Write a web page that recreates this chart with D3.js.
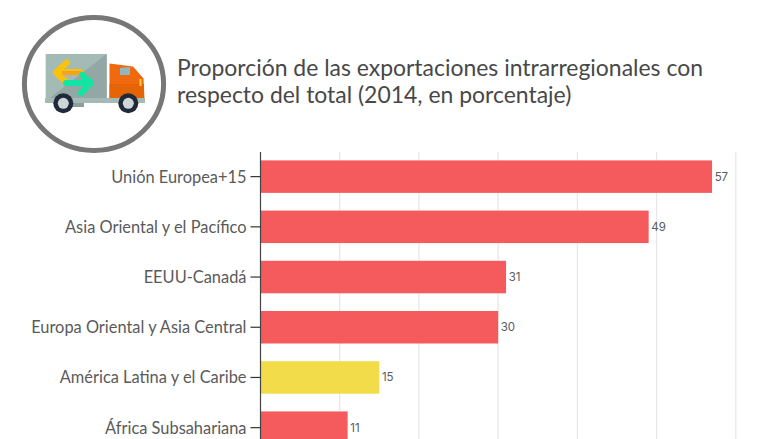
<!DOCTYPE html>
<html><head><meta charset="utf-8">
<script src="https://cdnjs.cloudflare.com/ajax/libs/d3/7.8.5/d3.min.js"></script>
<style>html,body{margin:0;padding:0;background:#fff;overflow:hidden}svg{display:block}</style>
</head><body><svg id="c" width="780" height="439"></svg>
<script>
const categories = ["Unión Europea+15","Asia Oriental y el Pacífico","EEUU-Canadá","Europa Oriental y Asia Central","América Latina y el Caribe","África Subsahariana"];
const values = [57,49,31,30,15,11];
const barColors = ["#f55a5c","#f55a5c","#f55a5c","#f55a5c","#f2dc4a","#f55a5c"];
const xTicks = [0,10,20,30,40,50,60];
const titleLines = ["Proporción de las exportaciones intrarregionales con","respecto del total (2014, en porcentaje)"];

const svg = d3.select("#c");
const x = d3.scaleLinear().domain([0,60]).range([260.5,735.8]);
const y = d3.scaleBand().domain(categories).range([152,452.3]).paddingInner(.353).paddingOuter(.167);

// grid
svg.append("g").selectAll("line").data(xTicks.slice(1)).join("line")
  .attr("x1",d=>x(d)).attr("x2",d=>x(d)).attr("y1",152).attr("y2",439)
  .attr("stroke","#e8e8e8").attr("stroke-width",1.3);

// bars
svg.append("g").selectAll("rect").data(values).join("rect")
  .attr("x",x(0)).attr("y",(d,i)=>y(categories[i]))
  .attr("width",d=>x(d)-x(0)).attr("height",y.bandwidth())
  .attr("fill",(d,i)=>barColors[i]);

// value labels
svg.append("g").selectAll("text").data(values).join("text")
  .attr("x",d=>x(d)+2.6).attr("y",(d,i)=>y(categories[i])+y.bandwidth()/2)
  .attr("dy","0.35em").attr("font-family","Inter").attr("font-size",11.5)
  .attr("fill","#5a5a5a").text(d=>d);

// axis
const ax = svg.append("g").attr("transform",`translate(${x(0)},0)`)
  .call(d3.axisLeft(y).tickSizeOuter(0).tickSize(10).tickPadding(4));
ax.select(".domain").attr("stroke","#444").attr("stroke-width",1.2).attr("d","M0,152V439");
ax.selectAll(".tick line").attr("stroke","#333").attr("stroke-width",1.2);
ax.selectAll("text").attr("font-family","Lato").attr("font-size",16.4).attr("fill","#5a5a5a").attr("dy","0.36em");

// title
svg.append("g").selectAll("text").data(titleLines).join("text")
  .attr("x",177).attr("y",(d,i)=>76+i*27)
  .attr("font-family","Lato").attr("font-size",22.95).attr("fill","#484848").text(d=>d);

// icon
const ic = svg.append("g");
ic.append("ellipse").attr("cx",94).attr("cy",84).attr("rx",69.6).attr("ry",66.4).attr("fill","#fff").attr("stroke","#777").attr("stroke-width",5);
ic.append("rect").attr("x",45.7).attr("y",54).attr("width",61).attr("height",44.5).attr("fill","#a3bab5");
ic.append("path").attr("d","M106.7 54V98.5H49Z").attr("fill","#93a8a4");
ic.append("path").attr("d","M109.5 63.5L133 66.5L143.5 78.5L144.5 98.5H109.5Z").attr("fill","#f0690f");
ic.append("path").attr("d","M109.5 84H144V98.5H109.5Z").attr("fill","#e56405");
ic.append("path").attr("d","M120 68L130 67V75H120Z").attr("fill","#8fb8c0");
ic.append("rect").attr("x",139.5).attr("y",79).attr("width",2).attr("height",7).attr("fill","#f6d33c");
ic.append("rect").attr("x",45).attr("y",98).attr("width",100).attr("height",5).attr("fill","#a3bab5");
ic.append("rect").attr("x",65).attr("y",103).attr("width",19).attr("height",4).attr("fill","#8aa09c");
ic.append("path").attr("d","M80 72H62M67 62.5L56 72.5L66 82").attr("fill","none").attr("stroke","#fbc20c").attr("stroke-width",6).attr("stroke-linecap","round").attr("stroke-linejoin","round");
ic.append("path").attr("d","M62 73H81").attr("stroke","#f7a21d").attr("stroke-width",4);
ic.append("path").attr("d","M66 83H90").attr("stroke","#10e5a2").attr("stroke-width",6).attr("stroke-linecap","round");
ic.append("path").attr("d","M82 75L91 83L81 93").attr("fill","none").attr("stroke","#10e5a2").attr("stroke-width",6).attr("stroke-linecap","round").attr("stroke-linejoin","round");
[63.3,128.3].forEach(cx=>{
  ic.append("circle").attr("cx",cx).attr("cy",103.3).attr("r",10).attr("fill","#1f2a3a");
  ic.append("circle").attr("cx",cx).attr("cy",103.3).attr("r",5.5).attr("fill","#cfd6d8");
});
</script></body></html>
